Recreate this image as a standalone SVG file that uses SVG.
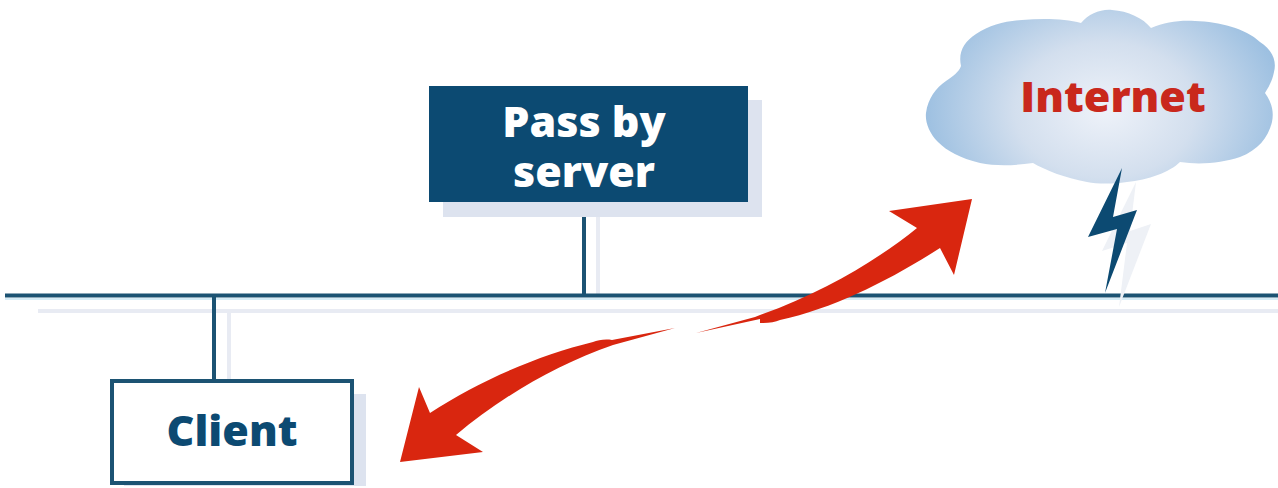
<svg xmlns="http://www.w3.org/2000/svg" width="1278" height="488" viewBox="0 0 1278 488">
<style>
.lbl{font-family:"Open Sans","Noto Sans","Liberation Sans",sans-serif;font-weight:800;text-anchor:middle;font-size:43px}
.sh{fill:#dde3ef}
.wire{stroke:#1c5373;stroke-width:4;fill:none}
.red{fill:#d9260f}
</style>
<defs>
<radialGradient id="cl" gradientUnits="userSpaceOnUse" cx="1105" cy="110" r="180" gradientTransform="translate(1105 110) scale(1 .75) translate(-1105 -110)">
<stop offset="0" stop-color="#eef2f9"/><stop offset=".5" stop-color="#d3dfee"/><stop offset="1" stop-color="#9dc0e1"/>
</radialGradient>
</defs>
<rect width="1278" height="488" fill="#fff"/>
<g id="connectors">
<path d="M38 311H1278M229 311V380M598 217V296" stroke="#e8ebf3" stroke-width="4" fill="none"/>
<path d="M5 299H1278" stroke="#d6ecf6" stroke-width="2" fill="none"/>
<path class="wire" d="M5 295.500H1278M214 296V380M584 202V296"/>
</g>
<g id="pass-by-server">
<rect class="sh" x="443" y="100" width="319" height="117"/>
<rect x="429" y="86" width="319" height="116" fill="#0c4a72"/>
<text class="lbl" fill="#fff"><tspan x="584" y="137">Pass by</tspan><tspan x="584" y="187">server</tspan></text>
</g>
<g id="client">
<rect class="sh" x="124" y="394" width="242" height="92"/>
<rect x="112" y="381" width="240" height="102" fill="#fff" stroke="#1c5373" stroke-width="4"/>
<text class="lbl" x="232" y="446" fill="#0c4a72">Client</text>
</g>
<g id="internet">
<path fill="url(#cl)" d="M961 66C958 52 964 42 976 34C990 25 1005 21 1022 20C1045 18 1066 19 1081 23C1089 14 1100 9 1112 10C1128 11 1143 18 1151 28C1165 22 1180 20 1195 21C1220 22 1245 28 1260 42C1272 50 1277 60 1274 72C1272 82 1268 88 1265 93C1272 103 1274 112 1272 122C1268 138 1258 150 1240 157C1222 163 1200 165 1180 162C1170 172 1148 180 1127 182C1112 184 1098 184 1087 182C1065 178 1045 170 1033 163C1012 166 995 166 980 163C960 158 947 151 938 142C929 133 925 122 926 113C928 98 936 88 946 81C953 76 959 72 961 66Z"/>
<text class="lbl" x="1113" y="112" fill="#c9281c">Internet</text>
</g>
<g id="bolt">
<path d="M1136 182L1102 251L1127 243L1119 307L1151 224L1130 231Z" fill="#eef1f6"/>
<path d="M1122 168L1088 237L1117 229L1105 293L1137 210L1113 217Z" fill="#0c4a72"/>
</g>
<g id="arrows">
<path class="red" d="M972 199L889 211L917 228C880 258 825 292 760 315L755 317L696 333L760 319L760 323C768 323.500 775 322 780 320C835 308 890 280 940 248L954 275Z"/>
<path class="red" d="M400 462L483 452L456 435C500 398 555 365 613 345L675 328L612 340C605 339 598 340 593 342C540 355 480 380 430 413L419 387Z"/>
</g>
</svg>
